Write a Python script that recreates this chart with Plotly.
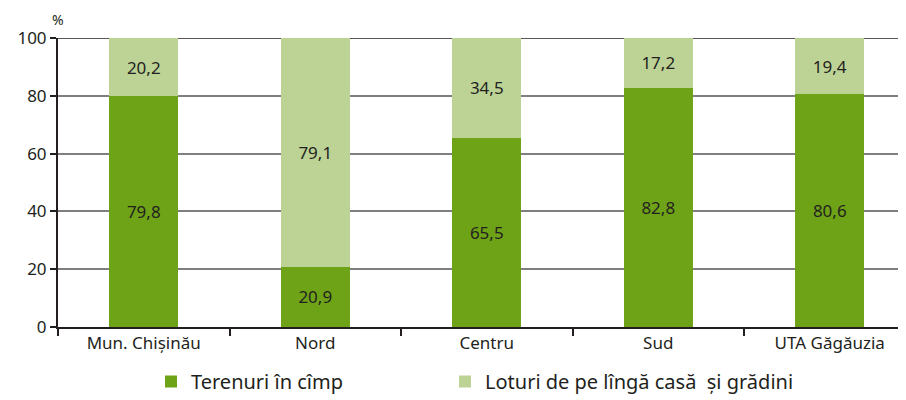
import plotly.graph_objects as go

categories = ["Mun. Chișinău", "Nord", "Centru", "Sud", "UTA Găgăuzia"]
terenuri = [79.8, 20.9, 65.5, 82.8, 80.6]
loturi = [20.2, 79.1, 34.5, 17.2, 19.4]
series_names = ["Terenuri în cîmp", "Loturi de pe lîngă casă  și grădini"]
y_ticks = [0, 20, 40, 60, 80, 100]

FONT = "Noto Sans"
TXT = "#231F20"
DARK = "#6FA317"
LIGHT = "#BDD396"

def fmt(v):
    return f"{v:.1f}".replace(".", ",")

x_idx = list(range(len(categories)))

fig = go.Figure()
fig.add_trace(go.Bar(
    x=x_idx, y=terenuri, name=series_names[0], legend="legend",
    marker=dict(color=DARK, line=dict(width=0)), width=0.4,
    text=[fmt(v) for v in terenuri], textposition="inside", insidetextanchor="middle",
    textfont=dict(family=FONT, size=17, color=TXT),
))
fig.add_trace(go.Bar(
    x=x_idx, y=loturi, name=series_names[1], legend="legend2",
    marker=dict(color=LIGHT, line=dict(width=0)), width=0.4,
    text=[fmt(v) for v in loturi], textposition="inside", insidetextanchor="middle",
    textfont=dict(family=FONT, size=17, color=TXT),
))

# page has an 8px body margin: figure origin sits at (8, 8) in the window
W, H = 898, 392
left, top, bottom = 50, 30, 73
plot_h = H - top - bottom
plot_w = W - left
cat_w = 171.5
right_extent = plot_w / cat_w - 0.5
legend_top_px = 354  # figure px

def legend_at(px):
    return dict(orientation="h", x=(px - left) / plot_w, xanchor="left",
                y=-(legend_top_px - (H - bottom)) / plot_h, yanchor="top",
                font=dict(family=FONT, size=20, color=TXT),
                itemwidth=30, bgcolor="rgba(0,0,0,0)")

fig.update_layout(
    width=W, height=H, barmode="stack",
    margin=dict(l=left, r=0, t=top, b=bottom, autoexpand=False),
    paper_bgcolor="white", plot_bgcolor="white",
    font=dict(family=FONT, size=17, color=TXT),
    uniformtext=dict(minsize=17, mode="show"),
    showlegend=True,
    legend=legend_at(143),
    legend2=legend_at(437),
    xaxis=dict(
        range=[-0.5, right_extent], tickmode="array",
        tickvals=x_idx, ticktext=categories,
        showgrid=False, showline=True, linecolor=TXT, linewidth=2,
        ticks="", tickfont=dict(family=FONT, size=17, color=TXT), fixedrange=True,
        minor=dict(tickmode="array", tickvals=[-0.5, 0.5, 1.5, 2.5, 3.5], ticks="outside",
                   ticklen=7, tickwidth=2, tickcolor=TXT),
    ),
    yaxis=dict(
        range=[0, 100], tickmode="array", tickvals=y_ticks,
        showgrid=True, gridcolor="#7F7F7F", gridwidth=1.5,
        showline=True, linecolor=TXT, linewidth=2,
        ticks="outside", ticklen=6, tickwidth=2, tickcolor=TXT,
        tickfont=dict(family=FONT, size=17, color=TXT), zeroline=False,
    ),
    annotations=[dict(text="%", xref="paper", yref="paper", x=0, y=1, yshift=7,
                      xanchor="center", yanchor="bottom", showarrow=False,
                      font=dict(family=FONT, size=14, color=TXT))],
    shapes=[dict(type="line", xref="paper", yref="y", x0=0, x1=1, y0=100, y1=100,
                 line=dict(color=TXT, width=1.5), layer="below")],
)

fig.write_html("out.html")
